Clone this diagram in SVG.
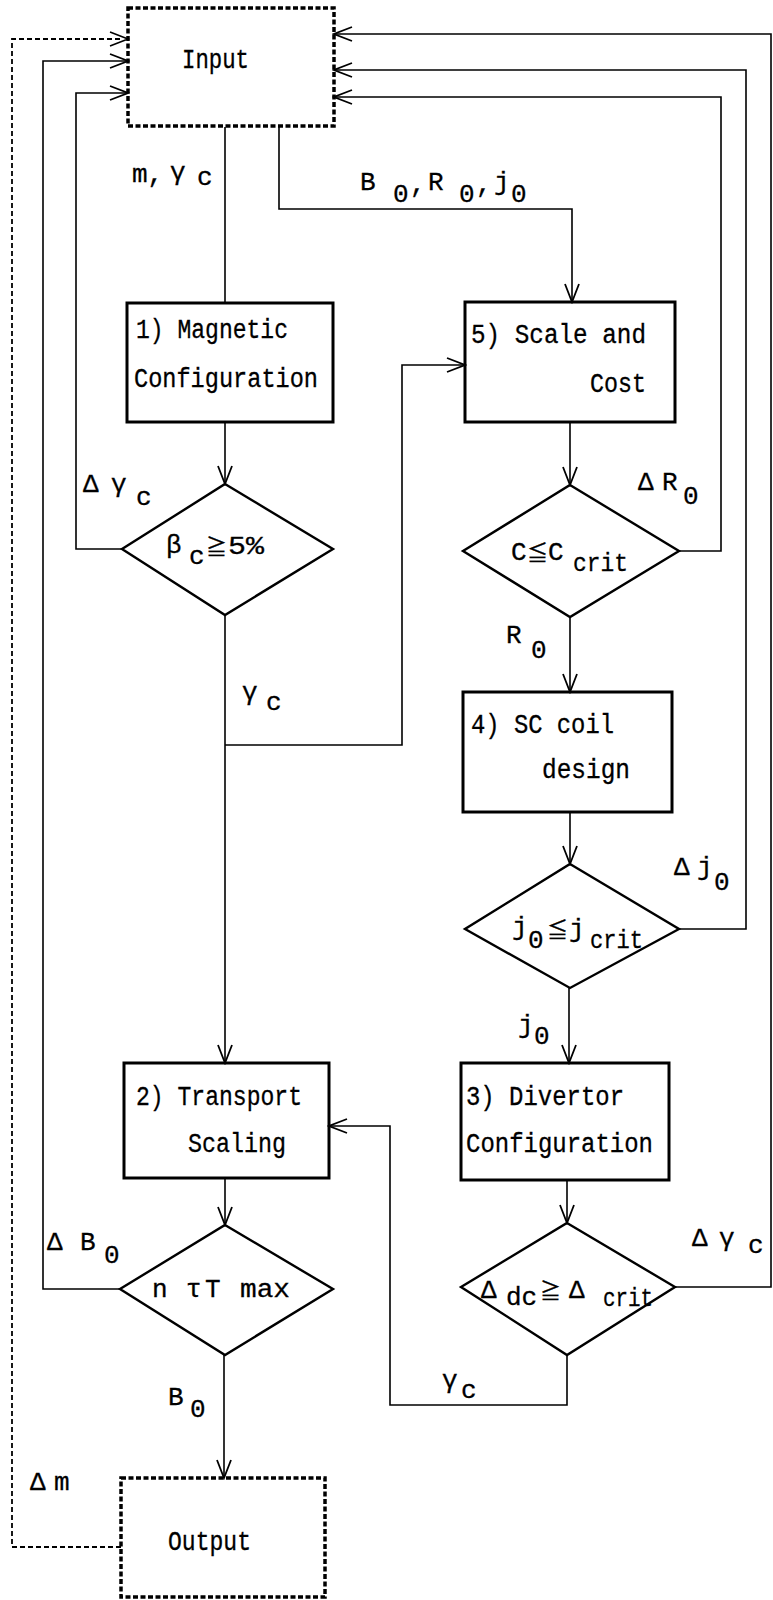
<svg xmlns="http://www.w3.org/2000/svg" width="773" height="1600" viewBox="0 0 773 1600">
<style>
.bg{fill:#fff}
.box{fill:none;stroke:#000;stroke-width:3}
.io{fill:none;stroke:#000;stroke-width:3.5;stroke-dasharray:5 2.5}
.dia{fill:none;stroke:#000;stroke-width:2.4}
.c{fill:none;stroke:#000;stroke-width:1.6}
.cd{fill:none;stroke:#000;stroke-width:1.8;stroke-dasharray:5 3}
.t{font-family:"Liberation Mono","Noto Sans CJK JP",monospace;font-size:27px;fill:#000;stroke:#000;stroke-width:0.3}
.l{font-family:"Liberation Mono","Noto Sans CJK JP",monospace;font-size:26px;fill:#000;stroke:#000;stroke-width:0.3}
.s{font-size:21px}
</style>
<defs>
<marker id="arr" viewBox="-20 -10 22 20" refX="0" refY="0" markerWidth="22" markerHeight="20" markerUnits="userSpaceOnUse" orient="auto">
<path d="M-18,-7 L0,0 L-18,7" fill="none" stroke="#000" stroke-width="1.8"/>
</marker>
</defs>
<rect class="bg" x="0" y="0" width="773" height="1600"/>

<g id="connectors">
<path class="c" d="M225,127 V303"/>
<path class="c" d="M279,127 V209 H572 V302" marker-end="url(#arr)"/>
<path class="c" d="M225,422 V484" marker-end="url(#arr)"/>
<path class="c" d="M570,422 V485" marker-end="url(#arr)"/>
<path class="c" d="M122,549 H76 V93 H128" marker-end="url(#arr)"/>
<path class="c" d="M679,551 H721 V97 H334" marker-end="url(#arr)"/>
<path class="c" d="M225,615 V1063" marker-end="url(#arr)"/>
<path class="c" d="M225,745 H402 V365 H465" marker-end="url(#arr)"/>
<path class="c" d="M570,617 V692" marker-end="url(#arr)"/>
<path class="c" d="M570,812 V864" marker-end="url(#arr)"/>
<path class="c" d="M679,929 H746 V70 H334" marker-end="url(#arr)"/>
<path class="c" d="M569,988 V1063" marker-end="url(#arr)"/>
<path class="c" d="M567,1180 V1223" marker-end="url(#arr)"/>
<path class="c" d="M675,1287 H771 V34 H334" marker-end="url(#arr)"/>
<path class="c" d="M567,1355 V1405 H390 V1126 H329" marker-end="url(#arr)"/>
<path class="c" d="M225,1178 V1225" marker-end="url(#arr)"/>
<path class="c" d="M120,1289 H43 V61 H128" marker-end="url(#arr)"/>
<path class="c" d="M224,1355 V1478" marker-end="url(#arr)"/>
<path class="cd" d="M121,1547 H12 V39 H120"/>
<path class="c" d="M110,32 L128,39 L110,46"/>
</g>

<g id="input">
<rect class="io" x="128" y="8" width="206" height="118"/>
<text class="t" x="182" y="68" textLength="67" lengthAdjust="spacingAndGlyphs">Input</text>
</g>

<g id="output">
<rect class="io" x="121" y="1478" width="204" height="119"/>
<text class="t" x="168" y="1550" textLength="83" lengthAdjust="spacingAndGlyphs">Output</text>
</g>

<g id="box1">
<rect class="box" x="127" y="303" width="206" height="119"/>
<text class="t" x="136" y="338" textLength="152" lengthAdjust="spacingAndGlyphs">1) Magnetic</text>
<text class="t" x="134" y="387" textLength="184" lengthAdjust="spacingAndGlyphs">Configuration</text>
</g>

<g id="box5">
<rect class="box" x="465" y="302" width="210" height="120"/>
<text class="t" x="471" y="343" textLength="175" lengthAdjust="spacingAndGlyphs">5) Scale and</text>
<text class="t" x="590" y="392" textLength="56" lengthAdjust="spacingAndGlyphs">Cost</text>
</g>

<g id="box4">
<rect class="box" x="463" y="692" width="209" height="120"/>
<text class="t" x="471" y="733" textLength="143" lengthAdjust="spacingAndGlyphs">4) SC coil</text>
<text class="t" x="542" y="778" textLength="88" lengthAdjust="spacingAndGlyphs">design</text>
</g>

<g id="box2">
<rect class="box" x="124" y="1063" width="205" height="115"/>
<text class="t" x="136" y="1105" textLength="166" lengthAdjust="spacingAndGlyphs">2) Transport</text>
<text class="t" x="188" y="1152" textLength="98" lengthAdjust="spacingAndGlyphs">Scaling</text>
</g>

<g id="box3">
<rect class="box" x="461" y="1063" width="208" height="117"/>
<text class="t" x="466" y="1105" textLength="158" lengthAdjust="spacingAndGlyphs">3) Divertor</text>
<text class="t" x="466" y="1152" textLength="187" lengthAdjust="spacingAndGlyphs">Configuration</text>
</g>

<g id="dec1">
<polygon class="dia" points="225,484 333,549 225,615 122,549"/>
<text class="l"><tspan x="166" y="553">β</tspan><tspan x="189" y="564">c</tspan><tspan class="s" x="206" y="554">≧</tspan><tspan x="228" y="554" textLength="36" lengthAdjust="spacingAndGlyphs">5%</tspan></text>
</g>

<g id="dec2">
<polygon class="dia" points="570,485 679,551 570,617 463,551"/>
<text class="l"><tspan x="511" y="560">C</tspan><tspan class="s" x="527" y="560">≦</tspan><tspan x="548" y="560">C</tspan><tspan x="573" y="571" textLength="55" lengthAdjust="spacingAndGlyphs">crit</tspan></text>
</g>

<g id="dec3">
<polygon class="dia" points="570,864 679,929 570,988 465,929"/>
<text class="l"><tspan x="512" y="935">j</tspan><tspan x="528" y="948">0</tspan><tspan class="s" x="547" y="937">≦</tspan><tspan x="569" y="937">j</tspan><tspan x="590" y="948" textLength="53" lengthAdjust="spacingAndGlyphs">crit</tspan></text>
</g>

<g id="dec4">
<polygon class="dia" points="225,1225 333,1289 225,1355 120,1289"/>
<text class="l"><tspan x="152" y="1297">n</tspan><tspan x="186" y="1297">τ</tspan><tspan x="205" y="1297">T</tspan><tspan x="240" y="1297" textLength="50" lengthAdjust="spacingAndGlyphs">max</tspan></text>
</g>

<g id="dec5">
<polygon class="dia" points="567,1223 675,1287 567,1355 461,1287"/>
<text class="l"><tspan x="481" y="1298">Δ</tspan><tspan x="506" y="1305">dc</tspan><tspan class="s" x="540" y="1298">≧</tspan><tspan x="569" y="1298">Δ</tspan><tspan x="603" y="1306" textLength="50" lengthAdjust="spacingAndGlyphs">crit</tspan></text>
</g>

<g id="labels">
<text class="l"><tspan x="132" y="182">m,</tspan><tspan x="170" y="180">γ</tspan><tspan x="197" y="185">c</tspan></text>
<text class="l"><tspan x="360" y="190">B</tspan><tspan x="393" y="202">0</tspan><tspan x="410" y="192">,</tspan><tspan x="428" y="190">R</tspan><tspan x="459" y="202">0</tspan><tspan x="476" y="192">,</tspan><tspan x="494" y="190">j</tspan><tspan x="511" y="202">0</tspan></text>
<text class="l"><tspan x="83" y="492">Δ</tspan><tspan x="111" y="492">γ</tspan><tspan x="136" y="505">c</tspan></text>
<text class="l"><tspan x="638" y="490">Δ</tspan><tspan x="662" y="490">R</tspan><tspan x="683" y="504">0</tspan></text>
<text class="l"><tspan x="242" y="700">γ</tspan><tspan x="266" y="710">c</tspan></text>
<text class="l"><tspan x="506" y="643">R</tspan><tspan x="531" y="658">0</tspan></text>
<text class="l"><tspan x="674" y="875">Δ</tspan><tspan x="697" y="875">j</tspan><tspan x="714" y="890">0</tspan></text>
<text class="l"><tspan x="518" y="1033">j</tspan><tspan x="534" y="1044">0</tspan></text>
<text class="l"><tspan x="47" y="1250">Δ</tspan><tspan x="80" y="1250">B</tspan><tspan x="104" y="1263">0</tspan></text>
<text class="l"><tspan x="692" y="1246">Δ</tspan><tspan x="719" y="1246">γ</tspan><tspan x="748" y="1253">c</tspan></text>
<text class="l"><tspan x="168" y="1405">B</tspan><tspan x="190" y="1417">0</tspan></text>
<text class="l"><tspan x="442" y="1388">γ</tspan><tspan x="461" y="1398">c</tspan></text>
<text class="l"><tspan x="30" y="1490">Δ</tspan><tspan x="54" y="1490">m</tspan></text>
</g>
</svg>
